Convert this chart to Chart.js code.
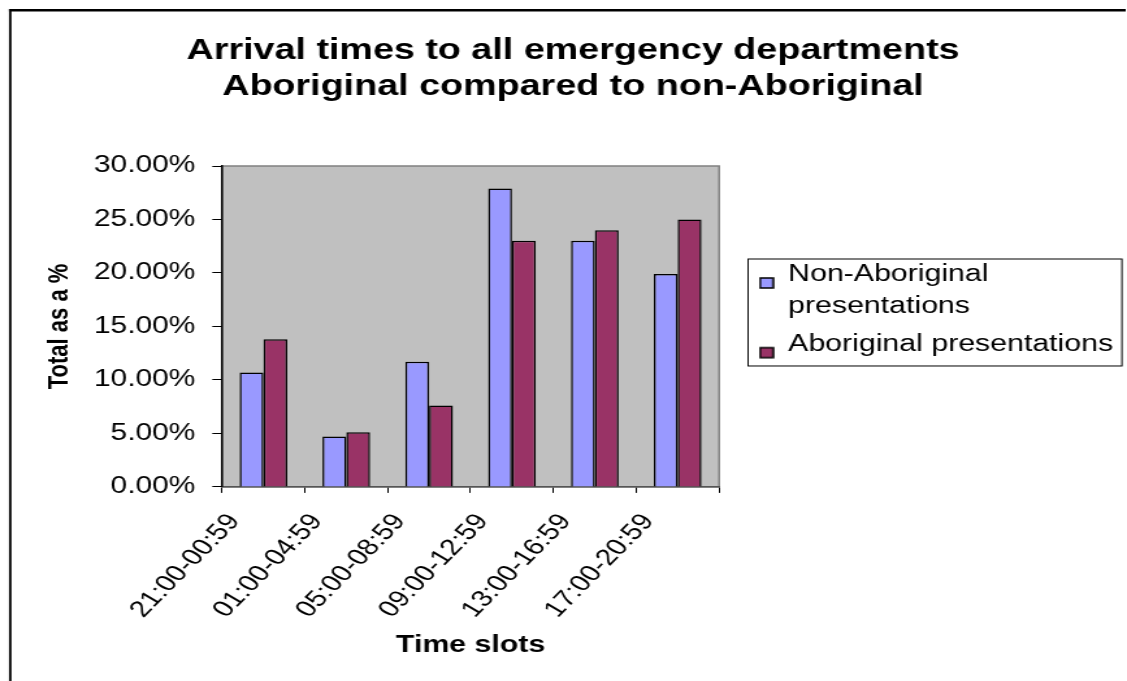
<!DOCTYPE html>
<html>
<head>
<meta charset="utf-8">
<title>Arrival times to all emergency departments</title>
<script src="https://cdn.jsdelivr.net/npm/chart.js@4.4.1/dist/chart.umd.min.js"></script>
<style>
  html, body { margin: 0; padding: 0; background: #fff; overflow: hidden; width: 1127px; height: 681px; }
  /* the chart is laid out on a narrower canvas and widened, giving the broad lettering of the original sheet */
  #wrap { position: absolute; left: 0; top: 0; width: 867px; height: 681px; overflow: hidden; transform: scaleX(1.29988); transform-origin: 0 0; }
  canvas { display: block; }
</style>
</head>
<body>
<div id="wrap"><canvas id="chart" width="867" height="681"></canvas></div>
<script>
// ---- data ----
const timeSlots = ['21:00-00:59', '01:00-04:59', '05:00-08:59', '09:00-12:59', '13:00-16:59', '17:00-20:59'];
const nonAboriginalPct = [10.7, 4.7, 11.7, 27.9, 23.0, 19.9];
const aboriginalPct = [13.8, 5.1, 7.6, 23.0, 24.0, 25.0];
const seriesNames = ['Non-Aboriginal presentations', 'Aboriginal presentations'];
const legendLines = [['Non-Aboriginal', 'presentations'], 'Aboriginal presentations'];
const titleLines = ['Arrival times to all emergency departments', 'Aboriginal compared to non-Aboriginal'];
const yAxisMax = 30;
const yAxisStep = 5;

const FONT = '"Liberation Sans", Arial, Helvetica, sans-serif';
Chart.defaults.font.family = FONT;
Chart.defaults.color = '#000';

const barColors = ['#9999ff', '#993366'];

// legend swatch: a bordered square sitting a little below the text middle
function makeSwatch(color) {
  const c = document.createElement('canvas');
  c.width = 12;
  c.height = 40;
  const g = c.getContext('2d');
  g.fillStyle = color;
  g.fillRect(1, 23, 10, 10);
  g.strokeStyle = '#000';
  g.lineWidth = 1.5;
  g.strokeRect(1, 23, 10, 10);
  return c;
}
const swatches = barColors.map(makeSwatch);

// grey plot area with its outline, plus the sheet frame at top and left
const plotBackdrop = {
  id: 'plotBackdrop',
  beforeDraw(chart) {
    const { ctx, chartArea: a } = chart;
    ctx.save();
    ctx.fillStyle = '#000';
    ctx.fillRect(6.9, 9, chart.width - 7.9, 2.5);
    ctx.fillRect(6.9, 9, 1.9, chart.height - 9);
    ctx.fillStyle = '#c0c0c0';
    ctx.fillRect(a.left, a.top, a.right - a.left, a.bottom - a.top);
    ctx.strokeStyle = '#808080';
    ctx.lineWidth = 1.5;
    ctx.strokeRect(a.left, a.top, a.right - a.left, a.bottom - a.top);
    ctx.restore();
  }
};

// thin box drawn around the legend entries
const legendFrame = {
  id: 'legendFrame',
  afterDraw(chart) {
    const boxes = chart.legend && chart.legend.legendHitBoxes;
    if (!boxes || !boxes.length) return;
    const first = boxes[0];
    const last = boxes[boxes.length - 1];
    const w = Math.max(...boxes.map(b => b.width));
    const top = first.top - 4.3;
    const ctx = chart.ctx;
    ctx.save();
    ctx.strokeStyle = '#000';
    ctx.lineWidth = 1;
    ctx.strokeRect(first.left - 9.2, top, w + 16, last.top + last.height + 9.7 - top);
    ctx.restore();
  }
};

new Chart(document.getElementById('chart'), {
  type: 'bar',
  data: {
    labels: timeSlots,
    datasets: [
      {
        label: seriesNames[0],
        data: nonAboriginalPct,
        backgroundColor: barColors[0],
        borderColor: '#000',
        borderWidth: 1.5,
        categoryPercentage: 0.575,
        barPercentage: 1.0
      },
      {
        label: seriesNames[1],
        data: aboriginalPct,
        backgroundColor: barColors[1],
        borderColor: '#000',
        borderWidth: 1.5,
        categoryPercentage: 0.575,
        barPercentage: 1.0
      }
    ]
  },
  options: {
    responsive: false,
    animation: false,
    events: [],
    layout: { padding: { top: 32.5, left: 15.3, right: 0.7, bottom: 23.35 } },
    plugins: {
      tooltip: { enabled: false },
      title: {
        display: true,
        text: titleLines,
        color: '#000',
        font: { family: FONT, size: 29, weight: 'bold', lineHeight: 1.25 },
        padding: { top: 0, bottom: 61 }
      },
      legend: {
        position: 'right',
        align: 'start',
        fullSize: false,
        maxWidth: 400,
        title: { display: true, text: '', padding: { top: 81.6, bottom: 0 }, font: { size: 10, lineHeight: 1 } },
        labels: {
          boxWidth: 10,
          boxHeight: 10,
          usePointStyle: true,
          padding: 5.7,
          color: '#000',
          font: { family: FONT, size: 23.3, lineHeight: 1.373 },
          generateLabels(chart) {
            const items = Chart.defaults.plugins.legend.labels.generateLabels(chart);
            items.forEach((item, i) => {
              item.text = legendLines[i];
              item.pointStyle = swatches[i];
            });
            return items;
          }
        }
      }
    },
    scales: {
      x: {
        grid: { display: true, drawOnChartArea: false, drawTicks: true, tickLength: 6, color: '#000', lineWidth: 1, offset: true },
        border: { display: true, color: '#555', width: 1.5 },
        ticks: {
          autoSkip: false,
          minRotation: 52.4,
          maxRotation: 52.4,
          padding: 16,
          labelOffset: -22.5,
          color: '#000',
          font: { family: FONT, size: 23 }
        },
        title: {
          display: true,
          text: 'Time slots',
          color: '#000',
          font: { family: FONT, size: 23.3, weight: 'bold', lineHeight: 1.0 },
          padding: { top: -4.65, bottom: 0 }
        }
      },
      y: {
        min: 0,
        max: yAxisMax,
        grid: { display: true, drawOnChartArea: false, drawTicks: true, tickLength: 7.5, color: '#000', lineWidth: 1 },
        border: { display: true, color: '#000', width: 1.5 },
        ticks: {
          stepSize: yAxisStep,
          padding: 13,
          color: '#000',
          font: { family: FONT, size: 23 },
          callback: v => Number(v).toFixed(2) + '%'
        },
        title: {
          display: true,
          text: 'Total as a %',
          color: '#000',
          font: { family: FONT, size: 22, weight: 'bold' },
          padding: { top: 17, bottom: 13.6 }
        },
        afterFit(scale) { scale.width = 155.5; }
      },
      // empty spacer between the plot and the legend
      gap: {
        type: 'linear',
        position: 'right',
        display: true,
        grid: { display: false },
        border: { display: false },
        ticks: { display: false },
        afterFit(scale) { scale.width = 25.8; }
      }
    }
  },
  plugins: [plotBackdrop, legendFrame]
});
</script>
</body>
</html>
